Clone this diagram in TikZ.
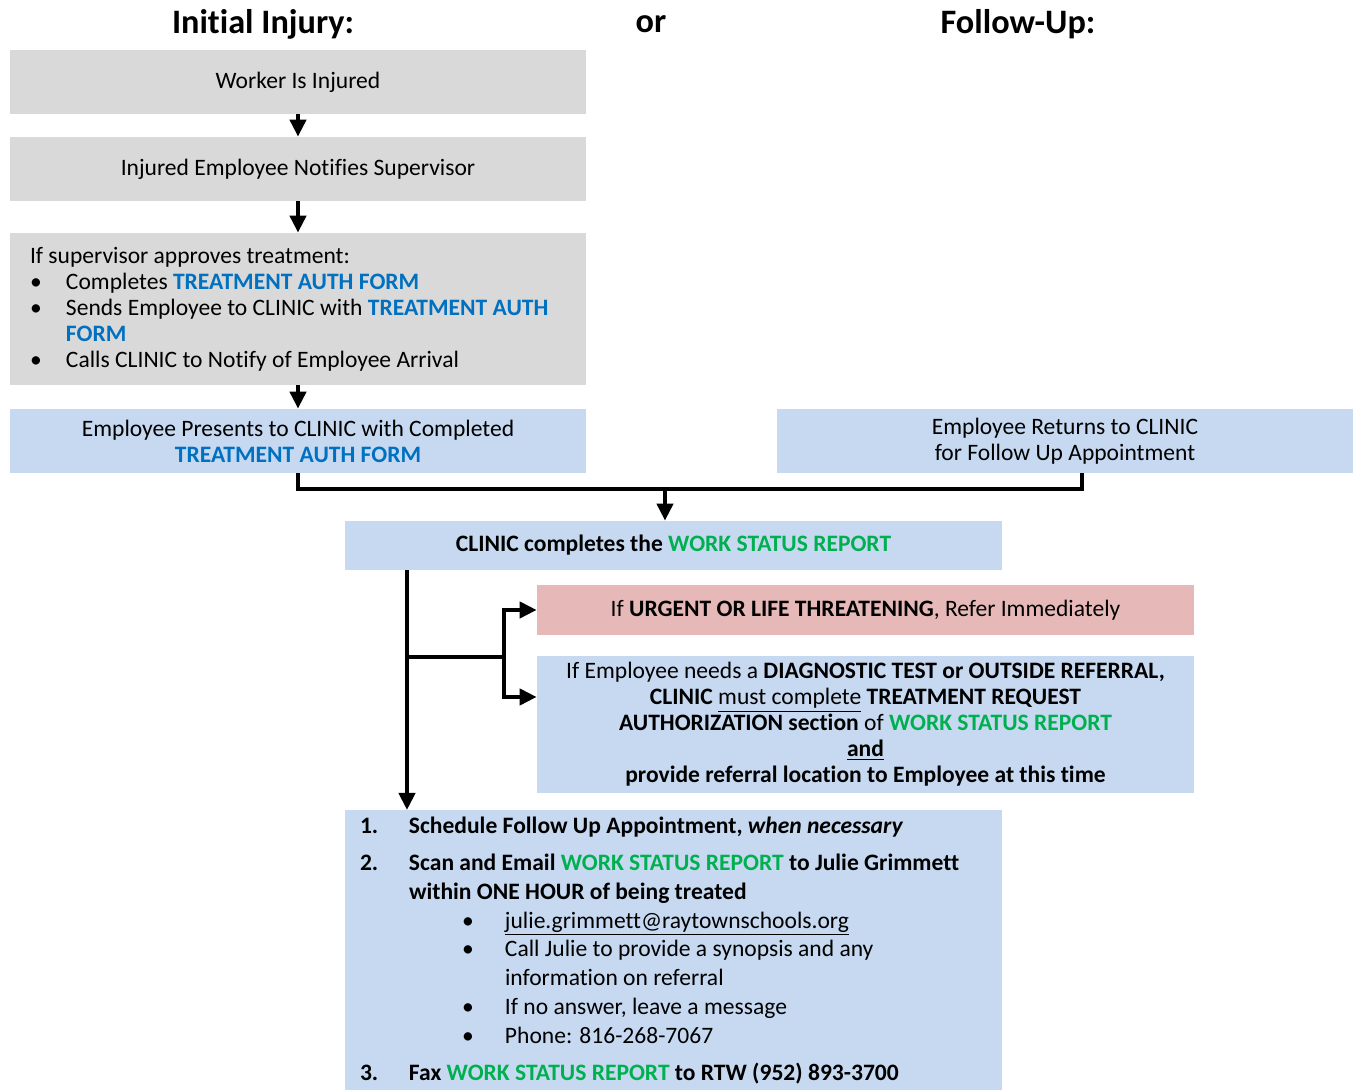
\documentclass[tikz,border=0pt]{standalone}
\usepackage{fontspec}
\setmainfont{Carlito}[Ligatures=NoCommon]
\usetikzlibrary{arrows.meta}
\definecolor{boxgray}{HTML}{D9D9D9}
\definecolor{boxblue}{HTML}{C6D9F1}
\definecolor{boxred}{HTML}{E6B9B8}
\definecolor{authblue}{HTML}{0070C0}
\definecolor{reportgreen}{HTML}{00B050}
\newcommand{\authform}[1]{\textbf{\color{authblue}#1}}
\newcommand{\reportform}[1]{\textbf{\color{reportgreen}#1}}
\newcommand{\bul}{\makebox[0.72cm][l]{\textbullet}}
\newcommand{\num}[1]{\makebox[0.98cm][l]{#1}}
\newcommand{\subbul}{\hspace*{0.98cm}\hspace*{1.06cm}\makebox[0.86cm][l]{\textbullet}}
\begin{document}
\begin{tikzpicture}[
    font=\fontsize{13.4}{14.8}\selectfont,
    heading/.style={font=\fontsize{19.5}{22}\selectfont\bfseries},
    graybox/.style={fill=boxgray, minimum width=11.52cm, minimum height=1.28cm, align=center},
    bluebox/.style={fill=boxblue, minimum width=11.52cm, minimum height=1.28cm, align=center},
    flow/.style={line width=2.3pt},
    arr/.style={flow, -{Triangle[length=0.34cm,width=0.32cm]}}
  ]
    \useasboundingbox (0,0) rectangle (27.1,21.8);

    \node[heading] (initial) at (5.26,21.32) {Initial Injury:};
    \node[heading] (or)      at (13.02,21.32) {or};
    \node[heading] (follow)  at (20.36,21.32) {Follow-Up:};

    \node[graybox] (injured)  at (5.96,20.16) {Worker Is Injured};
    \node[graybox] (notifies) at (5.96,18.42) {Injured Employee Notifies Supervisor};
    \node[graybox, minimum height=3.04cm, text width=10.72cm, inner xsep=0.4cm, align=left] (approves) at (5.96,15.62) {%
      \spaceskip=0pt\xspaceskip=0pt
      If supervisor approves treatment:\\
      \bul Completes \authform{TREATMENT AUTH FORM}\\
      \bul Sends Employee to CLINIC with \authform{TREATMENT AUTH}\\
      \hspace*{0.72cm}\authform{FORM}\\
      \bul Calls CLINIC to Notify of Employee Arrival};
    \node[bluebox] (presents) at (5.96,12.98) {Employee Presents to CLINIC with Completed\\ \authform{TREATMENT AUTH FORM}};
    \node[bluebox] (returns)  at (21.30,12.98) {Employee Returns to CLINIC\\ for Follow Up Appointment};

    \node[bluebox, minimum width=13.14cm, minimum height=0.98cm] (report) at (13.47,10.89) {\textbf{CLINIC completes the} \reportform{WORK STATUS REPORT}};
    \node[fill=boxred, minimum width=13.14cm, minimum height=1.0cm] (urgent) at (17.31,9.60) {If \textbf{URGENT OR LIFE THREATENING}, Refer Immediately};
    \node[bluebox, minimum width=13.14cm, minimum height=2.74cm] (referral) at (17.31,7.31) {%
      If Employee needs a \textbf{DIAGNOSTIC TEST or OUTSIDE REFERRAL,}\\
      \textbf{CLINIC} \underline{must complete} \textbf{TREATMENT REQUEST}\\
      \textbf{AUTHORIZATION section} of \reportform{WORK STATUS REPORT}\\
      \textbf{\underline{and}}\\
      \textbf{provide referral location to Employee at this time}};
    \node[bluebox, anchor=north, minimum width=13.14cm, minimum height=5.6cm, text width=12.54cm, inner xsep=0.3cm, align=left,
          font=\fontsize{13.4}{16.4}\selectfont] (steps) at (13.47,5.60) {%
      \spaceskip=0pt\xspaceskip=0pt
      \textbf{\num{1.}Schedule Follow Up Appointment, \textit{when necessary}}\\[4.6pt]
      \textbf{\num{2.}Scan and Email \reportform{WORK STATUS REPORT} to Julie Grimmett}\\
      \textbf{\hspace*{0.98cm}within ONE HOUR of being treated}\\
      \subbul\underline{julie.grimmett@raytownschools.org}\\
      \subbul Call Julie to provide a synopsis and any\\
      \hspace*{2.9cm}information on referral\\
      \subbul If no answer, leave a message\\
      \subbul Phone: 816-268-7067\\[4.6pt]
      \textbf{\num{3.}Fax \reportform{WORK STATUS REPORT} to RTW (952) 893-3700}};

    \coordinate (join)  at (13.30,12.02);
    \coordinate (back)  at (21.64,12.34);
    \coordinate (split) at (8.14,8.66);
    \coordinate (fork)  at (10.08,8.66);

    \draw[arr] (injured) -- (notifies);
    \draw[arr] (notifies) -- (approves);
    \draw[arr] (approves) -- (presents);
    \draw[flow] (presents.south) |- (join) -| (back);
    \draw[arr] (join) -- (join |- report.north);

    \draw[arr] (split |- report.south) -- (split |- steps.north);
    \draw[flow] (split) -- (fork);
    \draw[arr] (fork) |- (urgent);
    \draw[arr] (fork) |- ([yshift=0.55cm]referral.west);
  \end{tikzpicture}
\end{document}
